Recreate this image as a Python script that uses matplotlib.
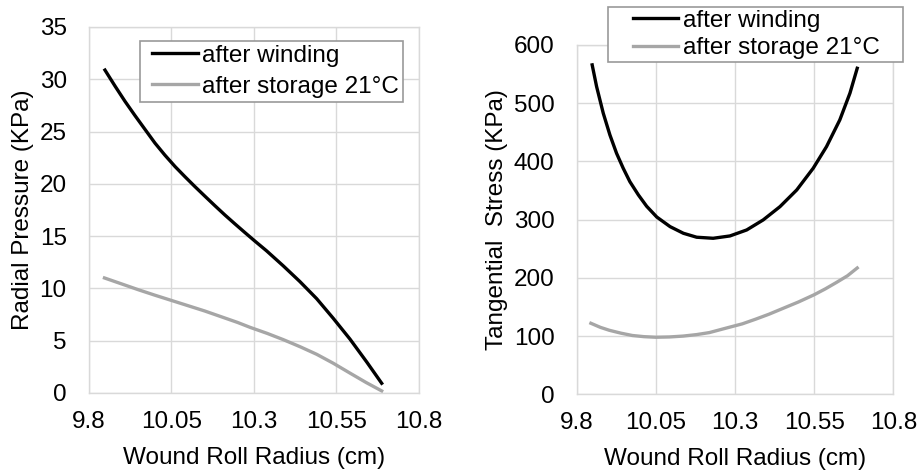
import matplotlib
matplotlib.use('Agg')
import matplotlib.pyplot as plt
from matplotlib.legend_handler import HandlerLine2D

# 반경별 응력 데이터 (권취 직후 / 21°C 보관 후)
radius_p_wind = [9.8485, 9.879, 9.909, 9.939, 9.970, 10.0, 10.03, 10.061, 10.091, 10.121,
                 10.152, 10.182, 10.212, 10.242, 10.273, 10.303, 10.338, 10.389, 10.439,
                 10.49, 10.54, 10.591, 10.642, 10.687]
pressure_wind = [30.88, 29.35, 27.9, 26.55, 25.2, 23.9, 22.75, 21.65, 20.68, 19.74,
                 18.8, 17.9, 17.02, 16.18, 15.33, 14.52, 13.6, 12.15, 10.66,
                 9.02, 7.15, 5.15, 2.95, 0.93]

radius_p_store = [9.847, 9.9, 9.95, 10.0, 10.05, 10.1, 10.15, 10.2, 10.25, 10.288, 10.34,
                  10.389, 10.44, 10.49, 10.54, 10.591, 10.64, 10.687]
pressure_store = [11.0, 10.42, 9.87, 9.35, 8.85, 8.35, 7.85, 7.3, 6.75, 6.28, 5.7,
                  5.1, 4.42, 3.7, 2.85, 1.9, 1.0, 0.2]

radius_t_wind = [9.849, 9.863, 9.884, 9.905, 9.926, 9.947, 9.968, 9.995, 10.021, 10.053,
                 10.095, 10.137, 10.179, 10.231, 10.284, 10.337, 10.389, 10.442, 10.495,
                 10.547, 10.589, 10.631, 10.663, 10.686]
stress_wind = [565.8, 528.5, 482.8, 445.5, 414, 388.3, 365.3, 342.4, 323, 304.5,
               288, 276.6, 269.8, 268, 272, 282.3, 299.5, 322.3, 351,
               388.3, 425.4, 471.3, 517.2, 560]

radius_t_store = [9.845, 9.875, 9.903, 9.94, 9.976, 10.013, 10.05, 10.093, 10.136, 10.178,
                  10.219, 10.281, 10.323, 10.365, 10.407, 10.449, 10.5, 10.55, 10.585,
                  10.62, 10.655, 10.686]
stress_store = [122, 115, 110, 105, 101, 99, 98, 98.5, 100, 102.5,
                106, 115, 121, 129, 137.5, 147, 158.5, 171, 181,
                192, 203.5, 217]

xticks = [9.8, 10.05, 10.3, 10.55, 10.8]
xticklabels = ['9.8', '10.05', '10.3', '10.55', '10.8']
labels = ['after winding', 'after storage 21°C']

plt.rcParams['font.family'] = ['Liberation Sans', 'DejaVu Sans']
plt.rcParams['font.size'] = 17.5

grid_c = '#d9d9d9'
black = '#000000'
gray = '#a6a6a6'

fig = plt.figure(figsize=(9.2, 4.72), dpi=100)
ax1 = fig.add_axes([0.0967, 0.1674, 0.3587, 0.7754])
ax2 = fig.add_axes([0.6268, 0.1646, 0.3442, 0.7401])


def style(ax):
    ax.set_xlim(9.8, 10.8)
    ax.set_xticks(xticks)
    ax.set_xticklabels(xticklabels)
    ax.grid(True, color=grid_c, linewidth=1.0)
    ax.set_axisbelow(True)
    for s in ax.spines.values():
        s.set_color(grid_c)
        s.set_linewidth(1.0)
    ax.tick_params(axis='both', length=0, colors='black')
    ax.tick_params(axis='x', pad=13)
    ax.tick_params(axis='y', pad=16)
    ax.set_xlabel('Wound Roll Radius (cm)', labelpad=10)


# 반경 방향 압력
ax1.plot(radius_p_wind, pressure_wind, color=black, lw=2.4, label=labels[0])
ax1.plot(radius_p_store, pressure_store, color=gray, lw=2.4, label=labels[1])
ax1.set_ylim(0, 35)
ax1.set_yticks(range(0, 36, 5))
style(ax1)
ax1.set_ylabel('Radial Pressure (KPa)', labelpad=4)
leg1 = ax1.legend(loc='upper left', bbox_to_anchor=(0.155, 0.9626), borderaxespad=0,
                  fancybox=False, framealpha=1, edgecolor='#999999', handlelength=2.2,
                  handletextpad=0.17, labelspacing=0.36, borderpad=0.17,
                  handler_map={plt.Line2D: HandlerLine2D(xpad=0.33)})
leg1.get_frame().set_linewidth(1.2)

# 접선 방향 응력
ax2.plot(radius_t_wind, stress_wind, color=black, lw=2.4, label=labels[0])
ax2.plot(radius_t_store, stress_store, color=gray, lw=2.4, label=labels[1])
ax2.set_ylim(0, 600)
ax2.set_yticks(range(0, 601, 100))
style(ax2)
ax2.set_ylabel('Tangential  Stress (KPa)', labelpad=4)
leg2 = ax2.legend(loc='upper left', bbox_to_anchor=(0.0998, 0.9505, 0.93, 0.1575),
                  mode='expand', borderaxespad=0,
                  fancybox=False, framealpha=1, edgecolor='#999999', handlelength=2.76,
                  handletextpad=0.2, labelspacing=0.22, borderpad=0.11,
                  handler_map={plt.Line2D: HandlerLine2D(xpad=0.9)})
leg2.get_frame().set_linewidth(1.2)

plt.savefig('out.png', dpi=100)
